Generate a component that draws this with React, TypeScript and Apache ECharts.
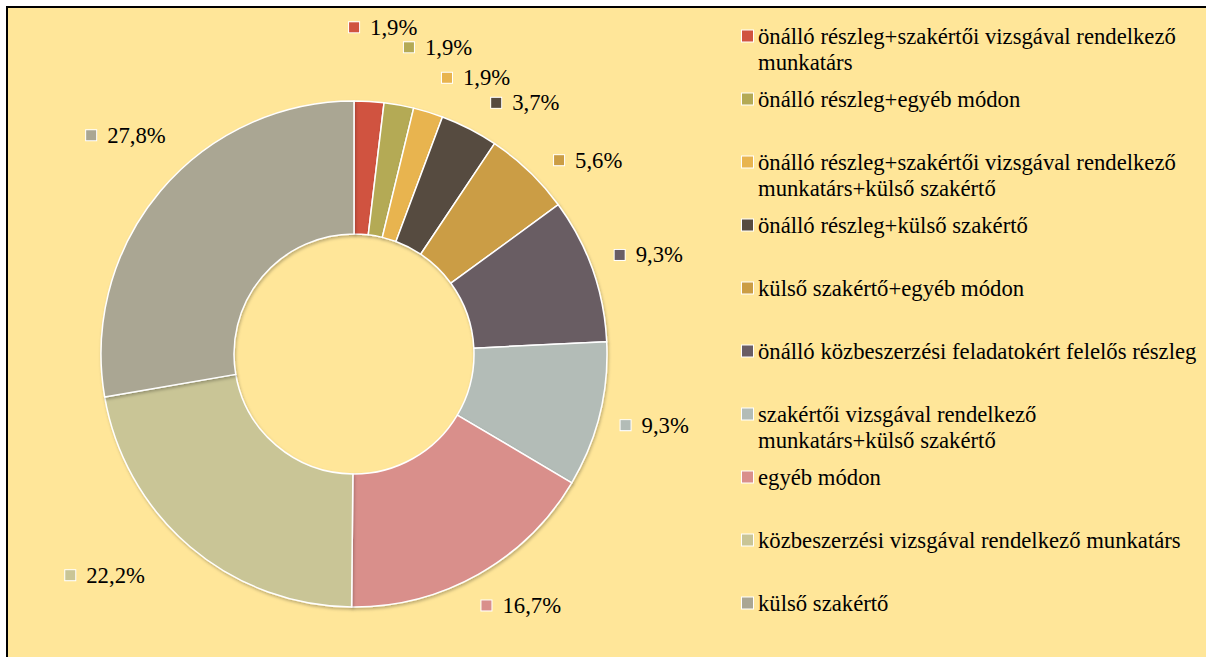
import React, { useEffect, useRef } from "react";
import * as echarts from "echarts";

const categories = [
  "önálló részleg+szakértői vizsgával rendelkező munkatárs",
  "önálló részleg+egyéb módon",
  "önálló részleg+szakértői vizsgával rendelkező munkatárs+külső szakértő",
  "önálló részleg+külső szakértő",
  "külső szakértő+egyéb módon",
  "önálló közbeszerzési feladatokért felelős részleg",
  "szakértői vizsgával rendelkező munkatárs+külső szakértő",
  "egyéb módon",
  "közbeszerzési vizsgával rendelkező munkatárs",
  "külső szakértő",
];

const legendLabels = [
  "önálló részleg+szakértői vizsgával rendelkező\nmunkatárs",
  "önálló részleg+egyéb módon",
  "önálló részleg+szakértői vizsgával rendelkező\nmunkatárs+külső szakértő",
  "önálló részleg+külső szakértő",
  "külső szakértő+egyéb módon",
  "önálló közbeszerzési feladatokért felelős részleg",
  "szakértői vizsgával rendelkező\nmunkatárs+külső szakértő",
  "egyéb módon",
  "közbeszerzési vizsgával rendelkező munkatárs",
  "külső szakértő",
];

const shares = [1.9, 1.9, 1.9, 3.7, 5.6, 9.3, 9.3, 16.7, 22.2, 27.8];

const colors = [
  "#D0533F",
  "#B4AA55",
  "#E8B44F",
  "#574B3F",
  "#CB9D44",
  "#695D64",
  "#B3BCB7",
  "#D98F8B",
  "#C9C596",
  "#AAA693",
];

// label placement relative to each slice's mid-angle (layout only)
const labelAngleShift = [1.7, 5.1, 6.8, 7.2, 6.6, 0.9, -0.6, -4.2, 8.0, 3.7];
const labelRadius = [328, 318, 302, 304, 304, 311, 309, 302, 333, 316];

const FONT = "Liberation Serif, Times New Roman, serif";
const FS = 22.7;
const CX = 354;
const CY = 354;
const R_IN = 120;
const R_OUT = 253;

export default function App() {
  const ref = useRef<HTMLDivElement>(null);

  useEffect(() => {
    if (!ref.current) return;
    const chart = echarts.init(ref.current, undefined, { renderer: "svg" });

    const total = shares.reduce((a, b) => a + b, 0);
    const mids: number[] = [];
    let acc = 0;
    shares.forEach((v) => {
      mids.push(((acc + v / 2) / total) * 360);
      acc += v;
    });

    const labelRich: Record<string, any> = {
      g: { width: 11, height: 10 },
      t: { fontSize: FS, fontFamily: FONT, color: "#000", lineHeight: 24 },
    };
    const legendRich: Record<string, any> = {
      g: { width: 5, height: 10, lineHeight: 26 },
      s: { width: 16, height: 10, lineHeight: 26 },
      t: { fontSize: FS, fontFamily: FONT, color: "#000", lineHeight: 26 },
    };
    colors.forEach((c, i) => {
      labelRich["m" + i] = {
        width: 10,
        height: 10,
        backgroundColor: c,
        borderColor: "#fff",
        borderWidth: 1,
      };
      legendRich["m" + i] = {
        width: 11,
        height: 11,
        backgroundColor: c,
        borderColor: "#fff",
        borderWidth: 1,
        lineHeight: 26,
      };
    });

    chart.setOption({
      animation: false,
      backgroundColor: "transparent",
      legend: {
        orient: "vertical",
        left: 731,
        top: 18,
        itemWidth: 0,
        itemHeight: 0,
        itemGap: 11,
        icon: "rect",
        data: categories,
        formatter: (name: string) => {
          const i = categories.indexOf(name);
          const lines = legendLabels[i].split("\n");
          const l1 = `{m${i}|}{g|}{t|${lines[0]}}`;
          const l2 = lines[1] ? `{s|}{t|${lines[1]}}` : `{s|}`;
          return l1 + "\n" + l2;
        },
        textStyle: {
          fontFamily: FONT,
          fontSize: FS,
          color: "#000",
          lineHeight: 26,
          rich: legendRich,
        },
      },
      series: [
        {
          type: "pie",
          center: [CX, CY],
          radius: [R_IN, R_OUT],
          startAngle: 90,
          clockwise: true,
          avoidLabelOverlap: false,
          emphasis: { scale: false },
          itemStyle: {
            borderColor: "#fff",
            borderWidth: 1.5,
            shadowBlur: 3,
            shadowColor: "rgba(0,0,0,0.25)",
            shadowOffsetX: 1,
            shadowOffsetY: 2,
          },
          label: {
            show: true,
            position: "outside",
            fontFamily: FONT,
            formatter: (p: any) =>
              `{m${p.dataIndex}|}{g|}{t|${shares[p.dataIndex]
                .toFixed(1)
                .replace(".", ",")}%}`,
            rich: labelRich,
          },
          labelLine: { show: false },
          labelLayout: (p: any) => {
            const i = p.dataIndex;
            const a = ((mids[i] + labelAngleShift[i]) * Math.PI) / 180;
            const r = labelRadius[i];
            return {
              x: CX + r * Math.sin(a),
              y: CY - r * Math.cos(a),
              align: "center",
              verticalAlign: "middle",
            };
          },
          data: shares.map((v, i) => ({
            name: categories[i],
            value: v,
            itemStyle: { color: colors[i] },
          })),
        },
      ],
    });

    return () => chart.dispose();
  }, []);

  return (
    <div style={{ position: "fixed", left: 0, top: 0, width: 1206, height: 657, background: "#fff" }}>
      <div
        style={{
          position: "absolute",
          left: 6,
          top: 6,
          right: 0,
          bottom: 0,
          borderLeft: "2px solid #000",
          borderTop: "2px solid #000",
          background: "#FFE699",
          boxSizing: "border-box",
        }}
      />
      <div ref={ref} style={{ position: "absolute", left: 0, top: 0, width: 1206, height: 657 }} />
    </div>
  );
}
